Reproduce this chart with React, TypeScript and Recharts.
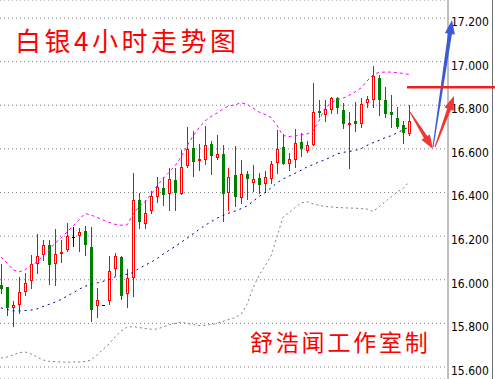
import React from 'react';
import { ComposedChart, Bar, Line, XAxis, YAxis, CartesianGrid } from 'recharts';

const RED = '#ff0000';
const GREEN = '#008000';

// 4h silver candles
const opens = [
  15.976, 15.965, 15.875, 15.889, 15.948, 15.999, 16.077, 16.118, 16.159, 16.077,
  16.121, 16.141, 16.197, 16.205, 16.224, 16.15, 15.886, 15.883, 15.907, 16.054,
  16.104, 15.939, 16.013, 16.366, 16.262, 16.32, 16.385, 16.421, 16.398, 16.459,
  16.396, 16.526, 16.604, 16.549, 16.554, 16.622, 16.563, 16.577, 16.401, 16.48,
  16.379, 16.485, 16.447, 16.465, 16.442, 16.465, 16.541, 16.607, 16.534, 16.552,
  16.633, 16.595, 16.622, 16.774, 16.759, 16.781, 16.832, 16.778, 16.713, 16.728,
  16.717, 16.814, 16.827, 16.924, 16.824, 16.77, 16.74, 16.709, 16.671,
];
const highs = [
  16.072, 15.967, 15.903, 16.013, 16.031, 16.113, 16.21, 16.182, 16.182, 16.233,
  16.182, 16.26, 16.242, 16.237, 16.246, 16.243, 15.964, 15.884, 16.11, 16.123,
  16.109, 16.049, 16.491, 16.398, 16.366, 16.408, 16.471, 16.471, 16.512, 16.512,
  16.595, 16.702, 16.683, 16.622, 16.705, 16.636, 16.664, 16.618, 16.512, 16.613,
  16.549, 16.499, 16.526, 16.488, 16.499, 16.544, 16.687, 16.668, 16.581, 16.69,
  16.671, 16.636, 16.903, 16.824, 16.824, 16.839, 16.836, 16.809, 16.77, 16.816,
  16.832, 16.842, 16.98, 16.939, 16.885, 16.847, 16.793, 16.729, 16.801,
];
const lows = [
  15.939, 15.838, 15.788, 15.849, 15.93, 15.962, 16.032, 16.091, 15.981, 15.976,
  16.083, 16.133, 16.156, 16.133, 16.113, 15.812, 15.831, 15.882, 15.89, 16.022,
  15.912, 15.876, 15.927, 16.239, 16.239, 16.307, 16.358, 16.344, 16.32, 16.32,
  16.394, 16.517, 16.476, 16.503, 16.531, 16.486, 16.552, 16.269, 16.32, 16.338,
  16.35, 16.37, 16.407, 16.396, 16.404, 16.442, 16.488, 16.53, 16.503, 16.518,
  16.567, 16.587, 16.618, 16.748, 16.728, 16.763, 16.763, 16.694, 16.511, 16.682,
  16.699, 16.791, 16.791, 16.755, 16.748, 16.702, 16.694, 16.628, 16.664,
];
const closes = [
  15.962, 15.877, 15.884, 15.944, 15.985, 16.072, 16.109, 16.159, 16.072, 16.118,
  16.129, 16.201, 16.197, 16.219, 16.165, 15.866, 15.907, 15.883, 16.04, 16.109,
  15.93, 16.008, 16.366, 16.271, 16.306, 16.384, 16.425, 16.394, 16.462, 16.402,
  16.517, 16.599, 16.546, 16.554, 16.618, 16.572, 16.577, 16.399, 16.471, 16.384,
  16.485, 16.468, 16.46, 16.439, 16.472, 16.529, 16.598, 16.534, 16.552, 16.626,
  16.603, 16.616, 16.768, 16.769, 16.781, 16.832, 16.791, 16.717, 16.717, 16.72,
  16.804, 16.827, 16.934, 16.827, 16.763, 16.759, 16.706, 16.676, 16.728,
];

// bollinger bands
const upperBand = [
  16.104, 16.077, 16.045, 16.036, 16.045, 16.068, 16.081, 16.109, 16.136, 16.168,
  16.191, 16.219, 16.246, 16.274, 16.304, 16.297, 16.286, 16.274, 16.263, 16.254,
  16.25, 16.251, 16.299, 16.336, 16.358, 16.391, 16.43, 16.464, 16.492, 16.522,
  16.563, 16.613, 16.659, 16.696, 16.728, 16.748, 16.764, 16.783, 16.798, 16.801,
  16.812, 16.804, 16.787, 16.769, 16.758, 16.744, 16.707, 16.661, 16.657, 16.659,
  16.664, 16.668, 16.682, 16.728, 16.787, 16.81, 16.826, 16.832, 16.845, 16.861,
  16.879, 16.911, 16.939, 16.951, 16.952, 16.952, 16.949, 16.946, 16.941,
];
const middleBand = [
  15.871, 15.864, 15.857, 15.857, 15.859, 15.861, 15.866, 15.877, 15.887, 15.897,
  15.91, 15.925, 15.94, 15.956, 15.97, 15.978, 15.985, 15.993, 16.001, 16.013,
  16.019, 16.025, 16.033, 16.052, 16.066, 16.08, 16.097, 16.117, 16.135, 16.152,
  16.171, 16.191, 16.21, 16.23, 16.249, 16.266, 16.282, 16.295, 16.306, 16.315,
  16.326, 16.338, 16.359, 16.382, 16.398, 16.421, 16.444, 16.462, 16.475, 16.488,
  16.502, 16.517, 16.528, 16.54, 16.55, 16.563, 16.577, 16.584, 16.588, 16.593,
  16.601, 16.616, 16.628, 16.639, 16.651, 16.66, 16.673, 16.687, 16.7,
];
const lowerBand = [
  15.641, 15.646, 15.655, 15.666, 15.669, 15.66, 15.646, 15.632, 15.626, 15.625,
  15.623, 15.622, 15.623, 15.623, 15.625, 15.632, 15.655, 15.681, 15.705, 15.738,
  15.765, 15.783, 15.785, 15.781, 15.777, 15.773, 15.774, 15.783, 15.793, 15.8,
  15.806, 15.799, 15.795, 15.79, 15.791, 15.795, 15.8, 15.809, 15.818, 15.826,
  15.841, 15.887, 15.962, 16.02, 16.064, 16.109, 16.196, 16.288, 16.308, 16.331,
  16.352, 16.358, 16.348, 16.341, 16.336, 16.334, 16.331, 16.33, 16.329, 16.328,
  16.326, 16.324, 16.313, 16.334, 16.357, 16.379, 16.402, 16.418, 16.448,
];

const priceTicks = [15.6, 15.8, 16.0, 16.2, 16.4, 16.6, 16.8, 17.0, 17.2];

const data = opens.map((o, k) => ({
  i: k + 1,
  o,
  h: highs[k],
  l: lows[k],
  c: closes[k],
  range: [lows[k], highs[k]],
  up: upperBand[k],
  mid: middleBand[k],
  lo: lowerBand[k],
}));

const Candle = (props: any) => {
  const { x, y, width, height, payload } = props;
  if (x == null || y == null || !payload) return null;
  const { o, h, l, c } = payload;
  const top = Math.min(y, y + height);
  const k = h > l ? Math.abs(height) / (h - l) : 0;
  const yOf = (v: number) => top + (h - v) * k;
  const cx = Math.round(x + width / 2);
  const color = c > o ? RED : c < o ? GREEN : '#000';
  const bTop = Math.round(yOf(Math.max(o, c)));
  const bBot = Math.round(yOf(Math.min(o, c)));
  const wick = (
    <line x1={cx + 0.5} x2={cx + 0.5} y1={Math.round(yOf(h))} y2={Math.round(yOf(l)) + 1} stroke={color} strokeWidth={1} />
  );
  if (c > o) {
    return (
      <g>
        {wick}
        <rect x={cx - 0.5} y={bTop + 0.5} width={2} height={Math.max(bBot - bTop, 1)} fill="#fff" stroke={color} strokeWidth={1} />
      </g>
    );
  }
  if (c < o) {
    return (
      <g>
        {wick}
        <rect x={cx - 1} y={bTop} width={3} height={Math.max(bBot - bTop + 1, 1)} fill={color} />
      </g>
    );
  }
  return (
    <g>
      {wick}
      <line x1={cx - 1} x2={cx + 2} y1={bTop + 0.5} y2={bTop + 0.5} stroke={color} strokeWidth={1} />
    </g>
  );
};

const PriceTick = (props: any) => {
  const { x, y, payload } = props;
  return (
    <text x={x} y={y + 8} fill="#000" fontSize={12} fontFamily="'DejaVu Sans Condensed', 'Liberation Sans', sans-serif" textAnchor="start">
      {Number(payload.value).toFixed(3)}
    </text>
  );
};

// tapered arrow polygon from tail to tip
const arrowPoints = (tx: number, ty: number, px: number, py: number, headLen: number, headW: number, shaftW: number) => {
  const len = Math.hypot(px - tx, py - ty);
  const ux = (px - tx) / len;
  const uy = (py - ty) / len;
  const nx = -uy;
  const ny = ux;
  const bx = px - ux * headLen;
  const by = py - uy * headLen;
  const pts = [
    [tx + nx * 0.5, ty + ny * 0.5],
    [bx + (nx * shaftW) / 2, by + (ny * shaftW) / 2],
    [bx + (nx * headW) / 2, by + (ny * headW) / 2],
    [px, py],
    [bx - (nx * headW) / 2, by - (ny * headW) / 2],
    [bx - (nx * shaftW) / 2, by - (ny * shaftW) / 2],
    [tx - nx * 0.5, ty - ny * 0.5],
  ];
  return pts.map((p) => p.join(',')).join(' ');
};

const W = 495;
const H = 379;

export default function App() {
  return (
    <div style={{ position: 'absolute', left: 0, top: 0, width: W, height: H, background: '#fff' }}>
      <ComposedChart width={W} height={H} data={data} margin={{ top: 0, right: 0, bottom: 0, left: 0 }}>
        <CartesianGrid horizontal vertical={false} stroke="#808080" strokeDasharray="1 3" />
        <XAxis type="number" dataKey="i" domain={[5 / 6, 5 / 6 + 448 / 6]} allowDataOverflow hide />
        <YAxis
          orientation="right"
          type="number"
          width={47}
          domain={[15.545, 17.2825]}
          allowDataOverflow
          ticks={priceTicks}
          tick={<PriceTick />}
          tickLine={false}
          tickSize={0}
          tickMargin={3}
          axisLine={{ stroke: '#808080' }}
        />
        <Line type="linear" dataKey="up" stroke="#ff00ff" strokeWidth={1} strokeDasharray="3 3" dot={false} activeDot={false} legendType="none" isAnimationActive={false} />
        <Line type="linear" dataKey="mid" stroke="#000080" strokeWidth={1} strokeDasharray="2 4" dot={false} activeDot={false} legendType="none" isAnimationActive={false} />
        <Line type="linear" dataKey="lo" stroke="#808080" strokeWidth={1} strokeDasharray="2 3" dot={false} activeDot={false} legendType="none" isAnimationActive={false} />
        <Bar dataKey="range" barSize={5} shape={(p: any) => <Candle {...p} />} isAnimationActive={false} />
      </ComposedChart>
      <svg width={W} height={H} style={{ position: 'absolute', left: 0, top: 0, pointerEvents: 'none' }}>
        <line x1={492.5} x2={492.5} y1={0} y2={H} stroke="#707070" strokeWidth={1} />
        <polygon points={arrowPoints(433, 147, 452, 20, 14, 10, 4)} fill="#3a5ad8" />
        <polygon points={arrowPoints(410, 112, 433, 149, 14, 10, 4)} fill="#f23535" />
        <polygon points={arrowPoints(435, 147, 454, 96, 14, 10, 4)} fill="#f23535" />
        <line x1={407} x2={495} y1={87.3} y2={87.3} stroke="#ee2020" strokeWidth={2.4} />
        <text x={15} y={51} fill={RED} fontSize={26} letterSpacing={3.5} fontFamily="'Noto Sans CJK SC', sans-serif">
          白银4小时走势图
        </text>
        <text x={250} y={351} fill={RED} fontSize={23} letterSpacing={2.8} fontFamily="'Noto Sans CJK SC', sans-serif">
          舒浩闻工作室制
        </text>
      </svg>
    </div>
  );
}
